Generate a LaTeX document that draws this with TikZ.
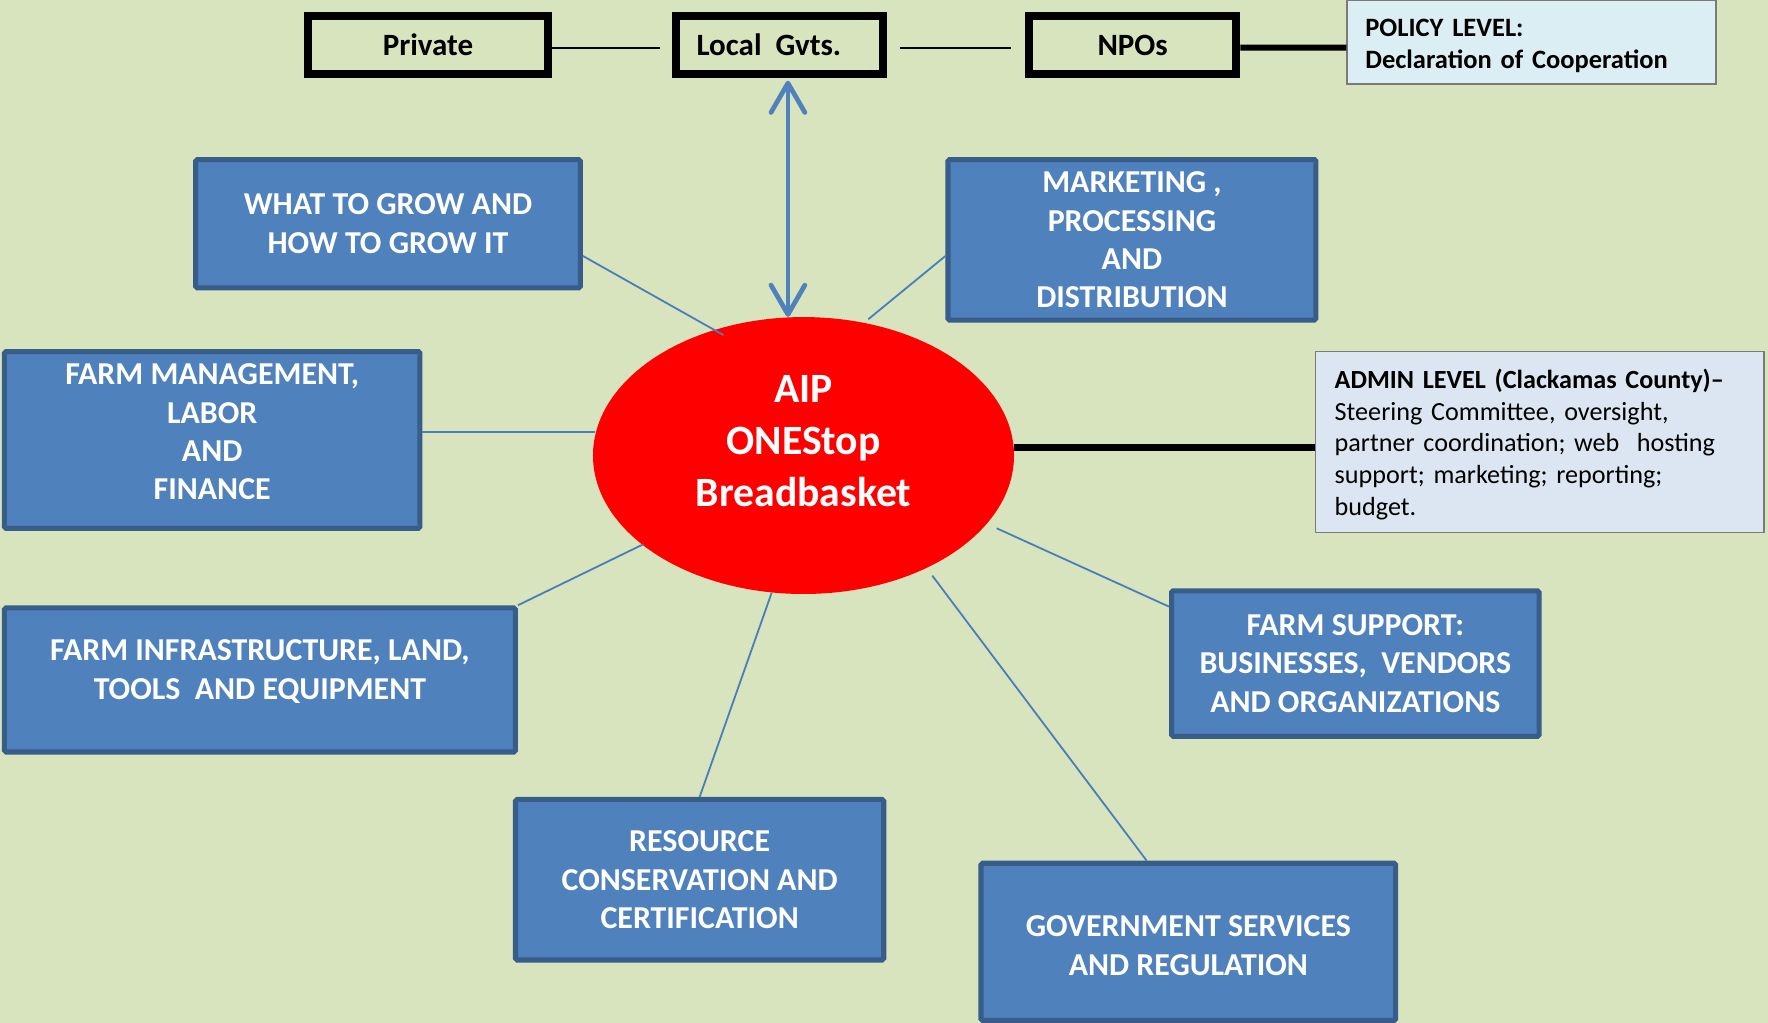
\documentclass[tikz,border=0pt]{standalone}
\usepackage{fontspec}
\setmainfont{Carlito}
\usetikzlibrary{shapes.geometric,arrows.meta,calc}
\definecolor{bg}{HTML}{D7E4BD}
\definecolor{boxblue}{HTML}{4F81BD}
\definecolor{boxedge}{HTML}{385D8A}
\definecolor{linkblue}{HTML}{4A7EBB}
\definecolor{polfill}{HTML}{DBEEF4}
\definecolor{admfill}{HTML}{DCE6F2}
\definecolor{infoedge}{HTML}{7A7A7A}
\begin{document}
\begin{tikzpicture}[x=1pt,y=-1pt,
  topbox/.style={draw=black, line width=7pt, fill=bg, inner sep=0pt, font=\bfseries\fontsize{27.5}{33}\selectfont},
  bluebox/.style={draw=boxedge, line width=4.5pt, fill=boxblue, rounded corners=1.5pt, inner sep=0pt, text=white, align=center, font=\bfseries\fontsize{28.3}{34}\selectfont},
  boxtext/.style={text=white, align=center, font=\bfseries\fontsize{28.3}{34}\selectfont, inner sep=0pt},
  infobox/.style={draw=infoedge, line width=1.5pt, inner sep=0pt},
  infotext/.style={inner sep=0pt, align=left},
  hub/.style={ellipse, fill=red, inner sep=0pt},
  hubtext/.style={text=white, align=center, font=\bfseries\fontsize{37}{46}\selectfont, inner sep=0pt},
  link/.style={draw=linkblue, line width=1.6pt},
  thinblack/.style={draw=black, line width=1.8pt},
  thickblack/.style={draw=black, line width=6.5pt},
  dbl/.style={draw=boxblue, line width=4.2pt, {Straight Barb[length=26pt,width=30pt,round]}-{Straight Barb[length=26pt,width=30pt,round]}}
]
\useasboundingbox (0,0) rectangle (1568,907);
\fill[bg] (0,0) rectangle (1568,907);

% top row
\node[topbox, minimum width=213.5pt, minimum height=51pt] (pv) at (379.6,39.9) {Private};
\node[topbox, minimum width=184pt, minimum height=51pt] (lg) at (691.4,39.9) {Local\ \ Gvts.\hspace*{19pt}};
\node[topbox, minimum width=184pt, minimum height=51pt] (np) at (1004.5,39.9) {NPOs};
\node[infobox, fill=polfill, minimum width=327pt, minimum height=74.5pt,
  label={[infotext, text width=295pt, yshift=-3pt, font=\bfseries\fontsize{23.5}{28.2}\selectfont]center:{POLICY LEVEL:\\Declaration of Cooperation}}] (pol) at (1358.4,37.5) {};

% hub
\node[hub, minimum width=373.4pt, minimum height=245.6pt,
  label={[hubtext, yshift=12.5pt]center:{AIP\\ONEStop\\Breadbasket}}] (c) at (712.6,404) {};

% admin
\node[infobox, fill=admfill, minimum width=398pt, minimum height=160.5pt,
  label={[infotext, text width=364pt, yshift=-2pt, font=\fontsize{23.2}{28.2}\selectfont]center:{\textbf{ADMIN LEVEL (Clackamas County)–}\\Steering Committee, oversight,\\partner coordination; web\ \ hosting\\support; marketing; reporting;\\budget.}}] (adm) at (1365.7,392.1) {};

% blue boxes
\node[bluebox, minimum width=341.2pt, minimum height=113.7pt] (wg) at (344.1,198.4) {WHAT TO GROW AND\\HOW TO GROW IT};
\node[bluebox, minimum width=326.3pt, minimum height=142.4pt] (mk) at (1003.9,212.7) {MARKETING ,\\PROCESSING\\AND\\DISTRIBUTION};
\node[bluebox, minimum width=368.5pt, minimum height=156.8pt,
  label={[boxtext, yshift=7pt]center:{FARM MANAGEMENT,\\LABOR\\AND\\FINANCE}}] (fm) at (188.2,390.2) {};
\node[bluebox, minimum width=453.1pt, minimum height=127.9pt,
  label={[boxtext, yshift=7.5pt]center:{FARM INFRASTRUCTURE, LAND,\\TOOLS\ \ AND EQUIPMENT}}] (fi) at (230.5,603) {};
\node[bluebox, minimum width=326.6pt, minimum height=142.4pt] (rc) at (620.5,780.2) {RESOURCE\\CONSERVATION AND\\CERTIFICATION};
\node[bluebox, minimum width=367.8pt, minimum height=139.4pt,
  label={[boxtext, yshift=-3.5pt]center:{GOVERNMENT SERVICES\\AND REGULATION}}] (gv) at (1053.9,835.3) {};
\node[bluebox, minimum width=326pt, minimum height=129pt] (fs) at (1202,588.5) {FARM SUPPORT:\\BUSINESSES,\ \ VENDORS\\AND ORGANIZATIONS};

% top connectors
\draw[thinblack, shorten >=11pt] ($(pv.east)+(0,2.4)$) -- ($(lg.west)+(0,2.4)$);
\draw[thinblack, shorten <=11pt, shorten >=12.6pt] ($(lg.east)+(0,2.4)$) -- ($(np.west)+(0,2.4)$);
\draw[black, line width=5.3pt] ($(np.east)+(0,2.4)$) -- ($(pol.west)+(0,4.8)$);

% double arrow
\coordinate (aT) at ($(lg.south)+(7.4,0)$);
\draw[dbl, shorten <=2.7pt] (aT) -- (aT |- c.north);

% admin link
\draw[thickblack] ($(c.center)+(186.4,-7)$) -- ($(adm.west)+(0,4.9)$);

% spokes
\draw[link] ($(wg.east)+(0,28.6)$) -- ($(c.center)+(-71.1,-106.9)$);
\draw[link] ($(mk.west)+(0,14.3)$) -- ($(c.center)+(57.4,-120.8)$);
\draw[link] ($(fm.east)+(0,-7.4)$) -- ($(c.center)+(-184.9,-21.2)$);
\draw[link] (fi.north east) -- ($(c.center)+(-142.1,78.7)$);
\draw[link] (rc.north) -- ($(c.center)+(-28.2,121.6)$);
\draw[link] ($(gv.north)+(-36.9,0)$) -- ($(c.center)+(114.2,106.5)$);
\draw[link] ($(fs.west)+(0,-50.5)$) -- ($(c.center)+(171.3,64.5)$);
\end{tikzpicture}
\end{document}
